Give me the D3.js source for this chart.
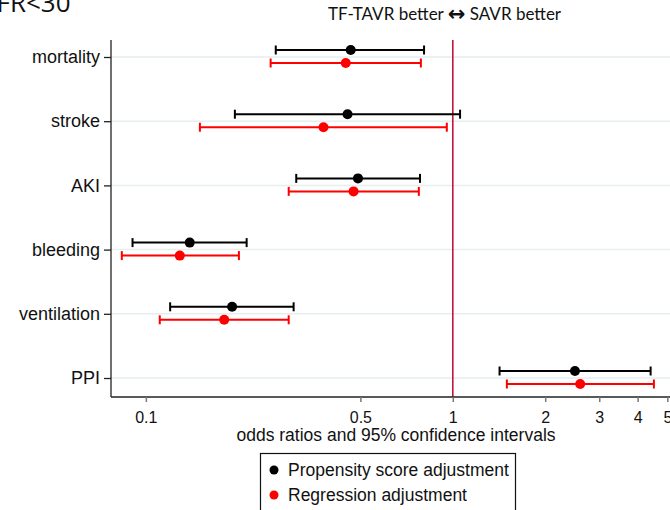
<!DOCTYPE html>
<html>
<head>
<meta charset="utf-8">
<script src="https://cdn.jsdelivr.net/npm/d3@7"></script>
<style>
  html, body { margin: 0; padding: 0; background: #fff; }
  svg { display: block; }
</style>
</head>
<body>
<svg id="chart" width="670" height="510"></svg>
<script>
// Outcomes, top to bottom
const categories = ["mortality", "stroke", "AKI", "bleeding", "ventilation", "PPI"];

// Odds ratios with 95% CI — propensity score adjustment
const psOR = [0.465, 0.454, 0.491, 0.139, 0.191, 2.50];
const psLo = [0.265, 0.195, 0.309, 0.0905, 0.120, 1.42];
const psHi = [0.806, 1.056, 0.782, 0.213, 0.303, 4.41];

// Odds ratios with 95% CI — regression adjustment
const regOR = [0.448, 0.379, 0.475, 0.129, 0.180, 2.60];
const regLo = [0.255, 0.150, 0.292, 0.0835, 0.111, 1.50];
const regHi = [0.787, 0.956, 0.775, 0.201, 0.292, 4.52];

const xTicks = [0.1, 0.5, 1, 2, 3, 4, 5];
const seriesNames = ["Propensity score adjustment", "Regression adjustment"];

const svg = d3.select("#chart");
const font = "'Liberation Sans', Arial, sans-serif";

const x = d3.scaleLog().domain([0.077, 5.1]).range([111, 670]);
const y = d3.scalePoint().domain(categories).range([57, 378]);
const plotTop = 40, plotBottom = 397;

// Light horizontal grid at each outcome
svg.append("g").selectAll("line").data(categories).join("line")
  .attr("x1", 111).attr("x2", 670)
  .attr("y1", d => y(d)).attr("y2", d => y(d))
  .attr("stroke", "#e6eef0").attr("stroke-width", 1.5);

// Reference line at OR = 1
svg.append("line")
  .attr("x1", x(1)).attr("x2", x(1))
  .attr("y1", plotTop).attr("y2", plotBottom)
  .attr("stroke", "#c3173f").attr("stroke-width", 1.6);

// Axes
const yAxis = svg.append("g").attr("transform", "translate(111,0)")
  .call(d3.axisLeft(y).tickSize(7).tickPadding(4));
yAxis.select(".domain").attr("d", `M0,${plotTop}V${plotBottom}`).attr("stroke", "#222").attr("stroke-width", 1.3);
yAxis.selectAll(".tick line").attr("stroke", "#222").attr("stroke-width", 1.3);
yAxis.selectAll(".tick text").attr("font-family", font).attr("font-size", 18).attr("fill", "#111");

const xAxis = svg.append("g").attr("transform", `translate(0,${plotBottom})`)
  .call(d3.axisBottom(x).tickValues(xTicks).tickFormat(d3.format("")).tickSize(5).tickPadding(10));
xAxis.select(".domain").attr("d", "M111,0H670").attr("stroke", "#222").attr("stroke-width", 1.3);
xAxis.selectAll(".tick line").attr("stroke", "#777").attr("stroke-width", 1.5);
xAxis.selectAll(".tick text").attr("font-family", font).attr("font-size", 16).attr("fill", "#111");

svg.append("text")
  .attr("x", 396).attr("y", 441).attr("text-anchor", "middle")
  .attr("font-family", font).attr("font-size", 17.5).attr("fill", "#111")
  .text("odds ratios and 95% confidence intervals");

// Estimates with confidence intervals
const series = [
  { or: psOR, lo: psLo, hi: psHi, color: "#000", dy: -7 },
  { or: regOR, lo: regLo, hi: regHi, color: "#f00", dy: 6 }
];
const capH = 4.5;
series.forEach(s => {
  const rows = categories.map((c, i) => ({ c, or: s.or[i], lo: s.lo[i], hi: s.hi[i] }));
  const g = svg.append("g");
  const yy = d => y(d.c) + s.dy;
  g.selectAll(".ci").data(rows).join("line")
    .attr("x1", d => x(d.lo)).attr("x2", d => x(d.hi))
    .attr("y1", yy).attr("y2", yy)
    .attr("stroke", s.color).attr("stroke-width", 2);
  g.selectAll(".capL").data(rows).join("line")
    .attr("x1", d => x(d.lo)).attr("x2", d => x(d.lo))
    .attr("y1", d => yy(d) - capH).attr("y2", d => yy(d) + capH)
    .attr("stroke", s.color).attr("stroke-width", 2);
  g.selectAll(".capR").data(rows).join("line")
    .attr("x1", d => x(d.hi)).attr("x2", d => x(d.hi))
    .attr("y1", d => yy(d) - capH).attr("y2", d => yy(d) + capH)
    .attr("stroke", s.color).attr("stroke-width", 2);
  g.selectAll("circle").data(rows).join("circle")
    .attr("cx", d => x(d.or)).attr("cy", yy).attr("r", 5)
    .attr("fill", s.color);
});

// Header and subgroup title
const header = svg.append("text")
  .attr("x", 328).attr("y", 20)
  .attr("font-family", "Lato, 'Open Sans', sans-serif").attr("font-size", 17).attr("fill", "#111");
header.append("tspan").text("TF-TAVR better ");
header.append("tspan").attr("font-family", "'DejaVu Sans', sans-serif").attr("font-weight", "bold")
  .attr("font-size", 21).attr("dy", 1).text("\u2194");
header.append("tspan").attr("dy", -1).text(" SAVR better");

svg.append("text")
  .attr("x", -37).attr("y", 12)
  .attr("font-family", "'Open Sans', 'Noto Sans', sans-serif").attr("font-size", 26).attr("fill", "#111")
  .text("eGFR<30");

// Legend
const legend = svg.append("g");
legend.append("rect")
  .attr("x", 260.5).attr("y", 453.5).attr("width", 255).attr("height", 70)
  .attr("fill", "#fff").attr("stroke", "#111").attr("stroke-width", 1.2);
const legColors = ["#000", "#f00"];
seriesNames.forEach((name, i) => {
  legend.append("circle").attr("cx", 274).attr("cy", 470 + i * 25).attr("r", 4.5).attr("fill", legColors[i]);
  legend.append("text").attr("x", 288).attr("y", 476 + i * 25)
    .attr("font-family", font).attr("font-size", 17.5).attr("fill", "#111")
    .text(name);
});
</script>
</body>
</html>
